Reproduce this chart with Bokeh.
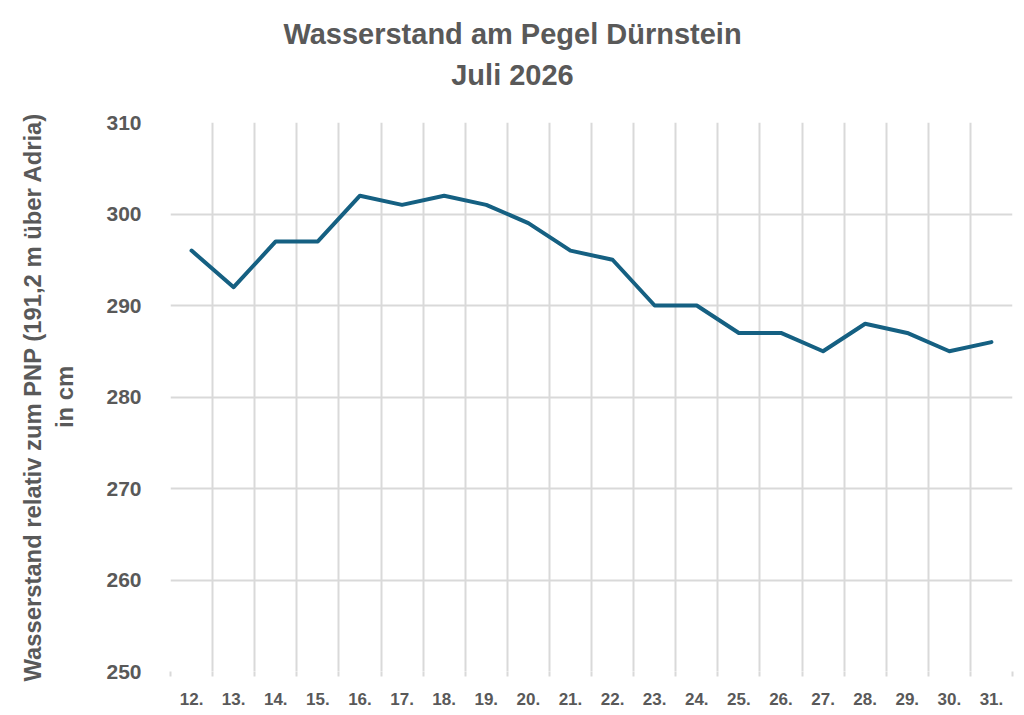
from bokeh.plotting import figure
from bokeh.models import FixedTicker, Label, Range1d
from bokeh.layouts import column
from bokeh.embed import file_html
from bokeh.resources import INLINE

days = ["12.", "13.", "14.", "15.", "16.", "17.", "18.", "19.", "20.", "21.",
        "22.", "23.", "24.", "25.", "26.", "27.", "28.", "29.", "30.", "31."]
levels = [296, 292, 297, 297, 302, 301, 302, 301, 299, 296,
          295, 290, 290, 287, 287, 285, 288, 287, 285, 286]
y_ticks = [250, 260, 270, 280, 290, 300, 310]

FONT = "Liberation Sans"
TXT = "#595959"
GRID = "#D9D9D9"
W = 1016
LEFT = 170

n = len(days)
xs = [i + 0.5 for i in range(n)]

# ---- title strip (frame is aligned with the chart's frame by the column) ----
head = figure(width=W, height=100, output_backend="svg", toolbar_location=None,
              x_axis_location=None, y_axis_location=None,
              x_range=Range1d(0, 1), y_range=Range1d(0, 1), min_border=0)
head.outline_line_color = None
head.grid.visible = False
head.add_layout(Label(x=512 - LEFT, y=46, x_units="screen", y_units="screen",
                      text="Wasserstand am Pegel Dürnstein\nJuli 2026",
                      text_align="center", text_baseline="middle",
                      text_font=FONT, text_font_style="bold",
                      text_font_size="29px", text_color=TXT, text_line_height=1.31))

# ---- main chart ----
p = figure(width=W, height=607, output_backend="svg", toolbar_location=None,
           x_range=Range1d(0, n), y_range=Range1d(250, 310),
           min_border_left=LEFT, min_border_right=4, min_border_top=22, min_border_bottom=33)
p.outline_line_color = None

p.line(xs, levels, line_color="#156082", line_width=4, line_join="round", line_cap="round")

# x axis
p.xaxis.ticker = FixedTicker(ticks=xs, minor_ticks=list(range(n + 1)))
p.xaxis.major_label_overrides = {x: d for x, d in zip(xs, days)}
p.xaxis.axis_line_color = None
p.xaxis.major_tick_line_color = None
p.xaxis.minor_tick_line_color = GRID
p.xaxis.minor_tick_line_width = 2
p.xaxis.minor_tick_in = 0
p.xaxis.minor_tick_out = 5
p.xaxis.major_label_standoff = 15
p.xaxis.major_label_text_font = FONT
p.xaxis.major_label_text_font_style = "bold"
p.xaxis.major_label_text_font_size = "17px"
p.xaxis.major_label_text_color = TXT

# y axis
p.yaxis.ticker = FixedTicker(ticks=y_ticks)
p.yaxis.axis_line_color = None
p.yaxis.major_tick_line_color = None
p.yaxis.minor_tick_line_color = None
p.yaxis.major_label_standoff = 23
p.yaxis.major_label_text_font = FONT
p.yaxis.major_label_text_font_style = "bold"
p.yaxis.major_label_text_font_size = "21px"
p.yaxis.major_label_text_color = TXT
p.yaxis.axis_label = "Wasserstand relativ zum PNP (191,2 m über Adria)\nin cm"
p.yaxis.axis_label_text_font = FONT
p.yaxis.axis_label_text_font_style = "bold"
p.yaxis.axis_label_text_font_size = "23.8px"
p.yaxis.axis_label_text_color = TXT
p.yaxis.axis_label_text_line_height = 1.2
p.yaxis.axis_label_standoff = 25

# grids
p.xgrid.ticker = FixedTicker(ticks=list(range(n + 1)))
p.xgrid.grid_line_color = GRID
p.xgrid.grid_line_width = 2
p.ygrid.ticker = FixedTicker(ticks=y_ticks)
p.ygrid.grid_line_color = GRID
p.ygrid.grid_line_width = 2

layout = column(head, p, spacing=0)
open("out.html", "w").write(file_html(layout, INLINE))
